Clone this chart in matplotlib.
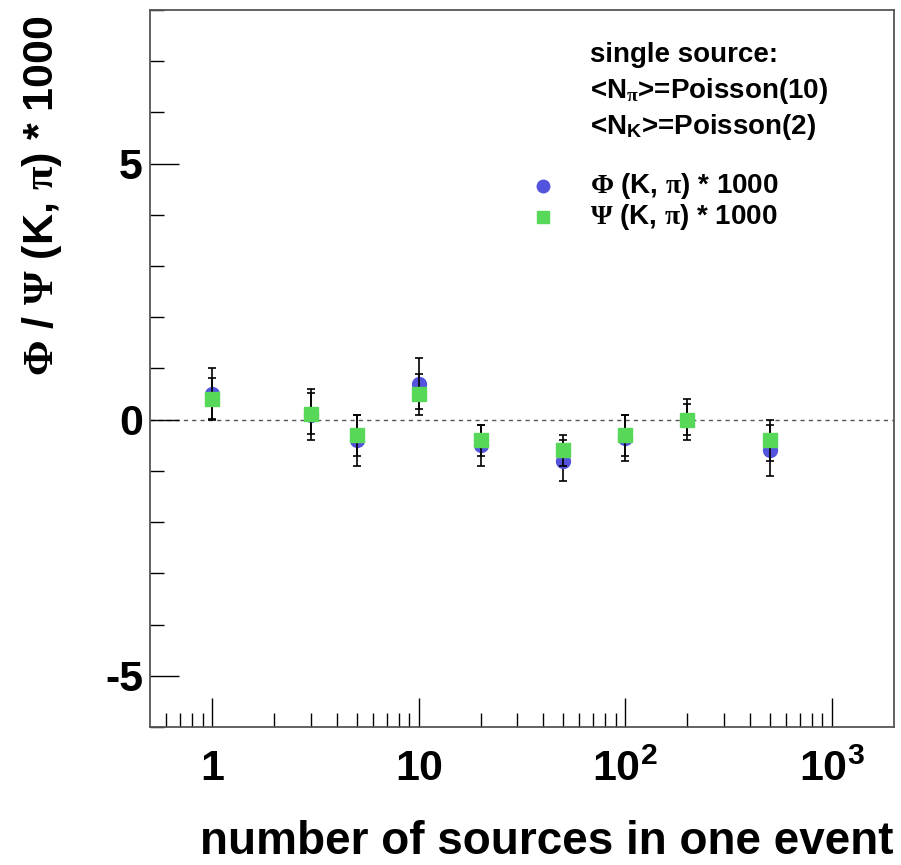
import numpy as np
import matplotlib
matplotlib.use('Agg')
import matplotlib.pyplot as plt
from matplotlib.ticker import FixedLocator, NullFormatter

plt.rcParams['font.family'] = ['Liberation Sans', 'DejaVu Sans']
plt.rcParams['font.weight'] = 'bold'
plt.rcParams['mathtext.fontset'] = 'custom'
plt.rcParams['mathtext.rm'] = 'Liberation Serif'
plt.rcParams['mathtext.it'] = 'Liberation Serif:italic'
plt.rcParams['mathtext.bf'] = 'Liberation Sans:bold'

# number of sources per event
n_sources = [1, 3, 5, 10, 20, 50, 100, 200, 500]

# Phi(K,pi)*1000 with errors
phi = [0.5, 0.1, -0.4, 0.7, -0.5, -0.8, -0.35, 0.0, -0.6]
phi_err = [0.5, 0.5, 0.5, 0.5, 0.4, 0.4, 0.45, 0.4, 0.5]

# Psi(K,pi)*1000 with errors
psi = [0.41, 0.12, -0.3, 0.5, -0.4, -0.6, -0.3, 0.0, -0.4]
psi_err = [0.4, 0.4, 0.4, 0.4, 0.3, 0.3, 0.4, 0.3, 0.4]

blue = '#5353de'
green = '#58d858'

fig = plt.figure(figsize=(9.01, 8.65), dpi=100)
ax = fig.add_axes([150/901, 1-727/865, 744/901, 717/865])

ax.axhline(0, color='#555555', lw=1.0, ls=(0, (3, 3)), zorder=1)

ax.errorbar(n_sources, phi, yerr=phi_err, fmt='none', ecolor='black',
            elinewidth=1.2, capsize=3, capthick=1.2, zorder=2)
ax.plot(n_sources, phi, 'o', color=blue, ms=10, mec=blue, zorder=3)
ax.errorbar(n_sources, psi, yerr=psi_err, fmt='none', ecolor='black',
            elinewidth=1.2, capsize=3, capthick=1.2, zorder=4)
ax.plot(n_sources, psi, 's', color=green, ms=10, mec=green, zorder=5)

ax.set_xscale('log')
ax.set_xlim(0.5, 2000)
ax.set_ylim(-6, 8)

ax.xaxis.set_major_locator(FixedLocator([1, 10, 100, 1000]))
minor_x = [m * 10.0**e for e in range(-1, 3) for m in range(2, 10)]
minor_x = [v for v in minor_x if 0.5 < v < 2000 and v not in (1, 10, 100, 1000)]
ax.xaxis.set_minor_locator(FixedLocator(minor_x))
ax.xaxis.set_minor_formatter(NullFormatter())
ax.set_xticklabels(['1', '10', r'$\mathbf{10^{2}}$', r'$\mathbf{10^{3}}$'])

ax.yaxis.set_major_locator(FixedLocator([-5, 0, 5]))
ax.yaxis.set_minor_locator(FixedLocator([-6, -4, -3, -2, -1, 1, 2, 3, 4, 6, 7, 8]))
ax.set_yticklabels(['-5', '0', '5'])

ax.tick_params(axis='both', which='major', length=21, width=1, direction='in',
               labelsize=31, colors='black')
ax.tick_params(axis='both', which='minor', length=10, width=1, direction='in')
ax.tick_params(axis='x', which='major', pad=16)
ax.tick_params(axis='y', which='major', pad=5)
for s in ax.spines.values():
    s.set_color('#555555')
    s.set_linewidth(1.3)

ax.set_xlabel('number of sources in one event', fontsize=33, fontweight='bold',
              ha='right', va='baseline')
ax.xaxis.set_label_coords(1.0, -(854 - 727) / 717)
ax.set_ylabel(r'$\Phi$ / $\Psi$ (K, $\mathrm{\pi}$) * 1000', fontsize=31,
              fontweight='bold', ha='right', va='center')
ax.yaxis.set_label_coords((42 - 150) / 744, 1 - 5 / 717)

# annotation block
tx = 590 / 901
fig.text(tx, 1 - 62/865, 'single source:', fontsize=20, fontweight='bold')
fig.text(tx, 1 - 98/865, r'<N$_{\mathrm{\pi}}$>=Poisson(10)', fontsize=20, fontweight='bold')
fig.text(tx, 1 - 134/865, r'<N$_{\mathbf{K}}$>=Poisson(2)', fontsize=20, fontweight='bold')

# legend
fig.lines.append(plt.Line2D([543/901], [1 - 186/865], marker='o', color=blue, ms=9,
                            transform=fig.transFigure, figure=fig))
fig.lines.append(plt.Line2D([543/901], [1 - 217/865], marker='s', color=green, ms=9,
                            transform=fig.transFigure, figure=fig))
fig.text(tx, 1 - 186/865, r'$\Phi$ (K, $\mathrm{\pi}$) * 1000', fontsize=20,
         fontweight='bold', va='center')
fig.text(tx, 1 - 217/865, r'$\Psi$ (K, $\mathrm{\pi}$) * 1000', fontsize=20,
         fontweight='bold', va='center')

fig.savefig('out.png', dpi=100)
